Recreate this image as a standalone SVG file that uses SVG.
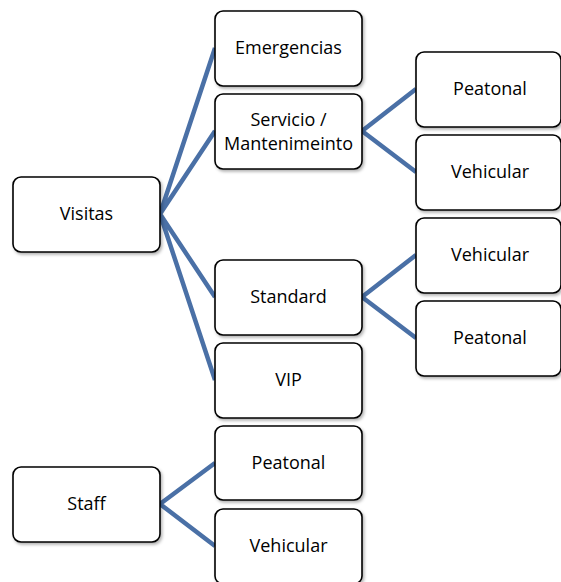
<svg xmlns="http://www.w3.org/2000/svg" width="561" height="582" viewBox="0 0 561 582">
<style>
.box{fill:#fff;stroke:#000;stroke-width:1.6}
.t{font-family:"Open Sans","Liberation Sans",sans-serif;font-size:18px;fill:#000;text-anchor:middle}
.c{stroke:#4a70a6;stroke-width:4.5;fill:none;stroke-linecap:butt}
</style>
<defs>
<filter id="sh" x="-10%" y="-10%" width="130%" height="130%">
<feDropShadow dx="1.5" dy="2" stdDeviation="1.5" flood-color="#000" flood-opacity="0.3"/>
</filter>
</defs>
<rect width="561" height="582" fill="#fff"/>
<g id="connectors">
<path class="c" d="M160,214 L215,48 M160,214 L215,131 M160,214 L215,297 M160,214 L215,380"/>
<path class="c" d="M362,131 L416,89 M362,131 L416,172"/>
<path class="c" d="M362,297 L416,255 M362,297 L416,338"/>
<path class="c" d="M160,504 L215,463 M160,504 L215,546"/>
</g>
<g id="visitas"><rect class="box" filter="url(#sh)" x="13" y="177" width="147" height="75" rx="8"/><text class="t" x="86.5" y="220">Visitas</text></g>
<g id="emergencias"><rect class="box" filter="url(#sh)" x="215" y="11" width="147" height="75" rx="8"/><text class="t" x="288.5" y="54">Emergencias</text></g>
<g id="servicio"><rect class="box" filter="url(#sh)" x="215" y="94" width="147" height="75" rx="8"/><text class="t" x="288.5" y="126">Servicio /</text><text class="t" x="288.5" y="150">Mantenimeinto</text></g>
<g id="standard"><rect class="box" filter="url(#sh)" x="215" y="260" width="147" height="75" rx="8"/><text class="t" x="288.5" y="303">Standard</text></g>
<g id="vip"><rect class="box" filter="url(#sh)" x="215" y="343" width="147" height="75" rx="8"/><text class="t" x="288.5" y="386">VIP</text></g>
<g id="serv-peatonal"><rect class="box" filter="url(#sh)" x="416" y="52" width="145" height="75" rx="8"/><text class="t" x="490" y="95">Peatonal</text></g>
<g id="serv-vehicular"><rect class="box" filter="url(#sh)" x="416" y="135" width="145" height="75" rx="8"/><text class="t" x="490" y="178">Vehicular</text></g>
<g id="std-vehicular"><rect class="box" filter="url(#sh)" x="416" y="218" width="145" height="75" rx="8"/><text class="t" x="490" y="261">Vehicular</text></g>
<g id="std-peatonal"><rect class="box" filter="url(#sh)" x="416" y="301" width="145" height="75" rx="8"/><text class="t" x="490" y="344">Peatonal</text></g>
<g id="staff"><rect class="box" filter="url(#sh)" x="13" y="467" width="147" height="75" rx="8"/><text class="t" x="86.5" y="510">Staff</text></g>
<g id="staff-peatonal"><rect class="box" filter="url(#sh)" x="215" y="426" width="147" height="74" rx="8"/><text class="t" x="288.5" y="469">Peatonal</text></g>
<g id="staff-vehicular"><rect class="box" filter="url(#sh)" x="215" y="509" width="147" height="75" rx="8"/><text class="t" x="288.5" y="552">Vehicular</text></g>
</svg>
